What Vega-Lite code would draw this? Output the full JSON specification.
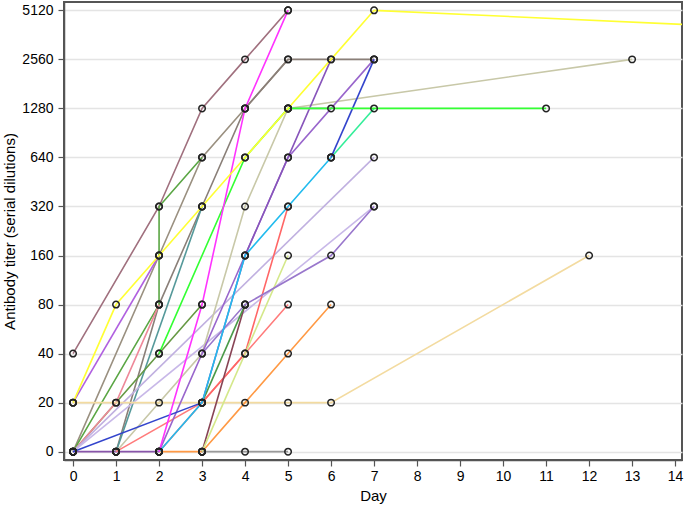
{
  "$schema": "https://vega.github.io/schema/vega-lite/v6.json",
  "width": 618,
  "height": 458,
  "autosize": {"type": "none"},
  "padding": {"left": 64, "top": 2, "right": 3, "bottom": 52},
  "config": {
    "view": {"stroke": "#555555", "strokeWidth": 2},
    "font": "Liberation Sans",
    "axis": {"labelColor": "#000000", "titleColor": "#000000", "labelFontSize": 14, "titleFontSize": 15, "titleFontWeight": "normal", "tickColor": "#555555", "domainColor": "#555555", "tickSize": 6, "domainWidth": 1.5, "tickWidth": 1.2}
  },
  "data": {
    "values": [
      {"s": "mauve", "d": 0, "t": 40}, {"s": "mauve", "d": 2, "t": 320}, {"s": "mauve", "d": 3, "t": 1280}, {"s": "mauve", "d": 4, "t": 2560}, {"s": "mauve", "d": 5, "t": 5120},
      {"s": "taupe", "d": 0, "t": 0}, {"s": "taupe", "d": 2, "t": 160}, {"s": "taupe", "d": 3, "t": 640}, {"s": "taupe", "d": 4, "t": 1280}, {"s": "taupe", "d": 5, "t": 2560},
      {"s": "darkgray", "d": 1, "t": 0}, {"s": "darkgray", "d": 2, "t": 80}, {"s": "darkgray", "d": 3, "t": 320}, {"s": "darkgray", "d": 4, "t": 1280}, {"s": "darkgray", "d": 5, "t": 2560}, {"s": "darkgray", "d": 7, "t": 2560},
      {"s": "teal", "d": 1, "t": 0}, {"s": "teal", "d": 3, "t": 320},
      {"s": "green1", "d": 0, "t": 0}, {"s": "green1", "d": 2, "t": 80}, {"s": "green1", "d": 2.001, "t": 320}, {"s": "green1", "d": 3, "t": 640},
      {"s": "green2", "d": 0, "t": 0}, {"s": "green2", "d": 2, "t": 40}, {"s": "green2", "d": 3, "t": 80},
      {"s": "pink1", "d": 0, "t": 0}, {"s": "pink1", "d": 1, "t": 20}, {"s": "pink1", "d": 2, "t": 80},
      {"s": "violet", "d": 0, "t": 20}, {"s": "violet", "d": 2, "t": 160},
      {"s": "lavender", "d": 0, "t": 0}, {"s": "lavender", "d": 7, "t": 640},
      {"s": "lavender2", "d": 0, "t": 0}, {"s": "lavender2", "d": 7, "t": 320},
      {"s": "purple0", "d": 0, "t": 0}, {"s": "purple0", "d": 1, "t": 0}, {"s": "purple0", "d": 2, "t": 0},
      {"s": "khaki", "d": 1, "t": 0}, {"s": "khaki", "d": 3, "t": 40}, {"s": "khaki", "d": 4, "t": 320}, {"s": "khaki", "d": 5, "t": 1280}, {"s": "khaki", "d": 13, "t": 2560},
      {"s": "wheat", "d": 0, "t": 20}, {"s": "wheat", "d": 1, "t": 20}, {"s": "wheat", "d": 2, "t": 20}, {"s": "wheat", "d": 5, "t": 20}, {"s": "wheat", "d": 6, "t": 20}, {"s": "wheat", "d": 12, "t": 160},
      {"s": "salmon", "d": 1, "t": 0}, {"s": "salmon", "d": 3, "t": 20}, {"s": "salmon", "d": 4, "t": 40}, {"s": "salmon", "d": 5, "t": 80},
      {"s": "pinkred", "d": 2, "t": 0}, {"s": "pinkred", "d": 4, "t": 40}, {"s": "pinkred", "d": 5, "t": 320},
      {"s": "orange", "d": 2, "t": 0}, {"s": "orange", "d": 3, "t": 0}, {"s": "orange", "d": 4, "t": 20}, {"s": "orange", "d": 5, "t": 40}, {"s": "orange", "d": 6, "t": 80},
      {"s": "gray", "d": 3, "t": 0}, {"s": "gray", "d": 4, "t": 0}, {"s": "gray", "d": 5, "t": 0},
      {"s": "darkred", "d": 3, "t": 0}, {"s": "darkred", "d": 4, "t": 80},
      {"s": "olive", "d": 3, "t": 20}, {"s": "olive", "d": 4, "t": 80},
      {"s": "ygreen", "d": 3, "t": 0}, {"s": "ygreen", "d": 5, "t": 160},
      {"s": "L3", "d": 3, "t": 40}, {"s": "L3", "d": 4, "t": 80}, {"s": "L3", "d": 6, "t": 160}, {"s": "L3", "d": 7, "t": 320},
      {"s": "P2", "d": 2, "t": 0}, {"s": "P2", "d": 4, "t": 160}, {"s": "P2", "d": 5, "t": 640}, {"s": "P2", "d": 7, "t": 2560},
      {"s": "P1", "d": 3, "t": 20}, {"s": "P1", "d": 4, "t": 160}, {"s": "P1", "d": 5, "t": 640}, {"s": "P1", "d": 6, "t": 2560},
      {"s": "slate", "d": 5, "t": 1280}, {"s": "slate", "d": 6, "t": 1280},
      {"s": "blue", "d": 0, "t": 0}, {"s": "blue", "d": 3, "t": 20},
      {"s": "cyan", "d": 2, "t": 0}, {"s": "cyan", "d": 3, "t": 20}, {"s": "cyan", "d": 4, "t": 160}, {"s": "cyan", "d": 5, "t": 320}, {"s": "cyan", "d": 6, "t": 640},
      {"s": "spring", "d": 6, "t": 640}, {"s": "spring", "d": 7, "t": 1280},
      {"s": "blue2", "d": 6, "t": 640}, {"s": "blue2", "d": 7, "t": 2560},
      {"s": "bgreen", "d": 2, "t": 40}, {"s": "bgreen", "d": 4, "t": 640}, {"s": "bgreen", "d": 5, "t": 1280}, {"s": "bgreen", "d": 11, "t": 1280},
      {"s": "magenta", "d": 2, "t": 0}, {"s": "magenta", "d": 3, "t": 80}, {"s": "magenta", "d": 4, "t": 1280}, {"s": "magenta", "d": 5, "t": 5120},
      {"s": "yellow", "d": 0, "t": 20}, {"s": "yellow", "d": 1, "t": 80}, {"s": "yellow", "d": 2, "t": 160}, {"s": "yellow", "d": 3, "t": 320}, {"s": "yellow", "d": 4, "t": 640}, {"s": "yellow", "d": 5, "t": 1280}, {"s": "yellow", "d": 6, "t": 2560}, {"s": "yellow", "d": 7, "t": 5120}, {"s": "yellow", "d": 32, "t": 2560}
    ]
  },
  "encoding": {
    "x": {
      "field": "d", "type": "quantitative", "title": "Day",
      "scale": {"domain": [-0.21, 14.16], "nice": false, "zero": false},
      "axis": {"values": [0,1,2,3,4,5,6,7,8,9,10,11,12,13,14], "format": "d", "grid": false, "labelPadding": 3, "titlePadding": 5}
    },
    "y": {
      "field": "t", "type": "ordinal", "title": "Antibody titer (serial dilutions)",
      "scale": {"type": "point", "domain": [5120, 2560, 1280, 640, 320, 160, 80, 40, 20, 0], "padding": 0.17},
      "axis": {"grid": true, "gridColor": "#e4e4e4", "gridWidth": 1.5, "labelPadding": 5, "titlePadding": 4}
    }
  },
  "layer": [
    {
      "mark": {"type": "line", "strokeWidth": 1.6, "clip": true},
      "encoding": {
        "color": {
          "field": "s", "type": "nominal", "legend": null,
          "scale": {
            "domain": ["mauve", "taupe", "darkgray", "teal", "green1", "green2", "pink1", "violet", "lavender", "lavender2", "purple0", "khaki", "wheat", "salmon", "pinkred", "orange", "gray", "darkred", "olive", "ygreen", "L3", "P2", "P1", "slate", "blue", "cyan", "spring", "blue2", "bgreen", "magenta", "yellow"],
            "range": ["#a0707e", "#9a9080", "#8a7f78", "#55999a", "#5aa644", "#669944", "#ee8899", "#b060e0", "#c0b0e0", "#c8b8e8", "#8855aa", "#c8c8a8", "#f3dba0", "#ff7b7b", "#ff6666", "#ff9944", "#999999", "#884455", "#4a9a48", "#d4e88a", "#9977cc", "#9966cc", "#8855bb", "#99aaaa", "#3344cc", "#22bbee", "#33ee99", "#3344cc", "#33ff33", "#ff33ff", "#ffff33"]
          }
        },
        "detail": {"field": "s"},
        "order": {"field": "d", "type": "quantitative"}
      }
    },
    {
      "mark": {"type": "point", "shape": "circle", "filled": false, "size": 42, "stroke": "#222222", "strokeWidth": 1.5, "opacity": 1, "clip": true},
      "encoding": {}
    }
  ]
}
